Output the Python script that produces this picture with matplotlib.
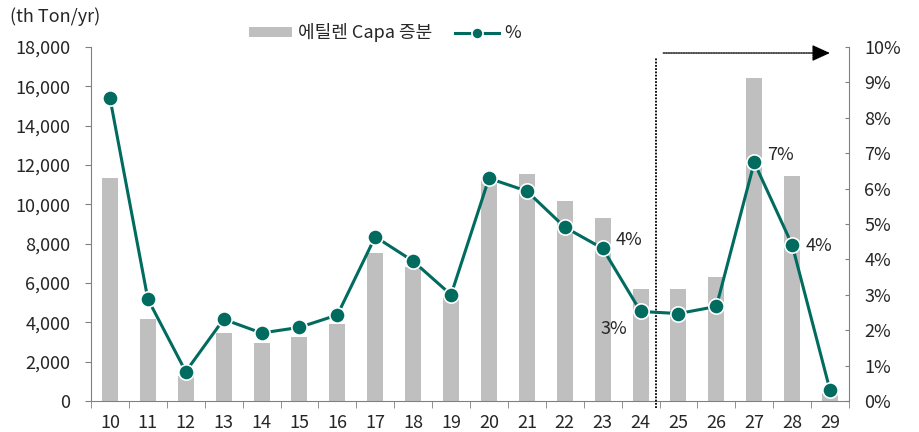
import matplotlib
matplotlib.use("Agg")
import matplotlib.pyplot as plt
from matplotlib.ticker import FuncFormatter, FixedLocator
import numpy as np

plt.rcParams['font.family'] = ['Noto Sans CJK KR', 'DejaVu Sans']

categories = ["10", "11", "12", "13", "14", "15", "16", "17", "18", "19",
              "20", "21", "22", "23", "24", "25", "26", "27", "28", "29"]
capa = [11350, 4150, 1250, 3450, 2950, 3250, 3900, 7550, 6800, 5300,
        11300, 11550, 10150, 9300, 5720, 5720, 6300, 16400, 11450, 400]
pct = [8.56, 2.88, 0.83, 2.31, 1.92, 2.08, 2.43, 4.64, 3.95, 3.00,
       6.29, 5.93, 4.91, 4.31, 2.53, 2.47, 2.67, 6.74, 4.41, 0.30]
annot = [(13, "4%", 0.35, 0.25), (14, "3%", -1.05, -0.5), (17, "7%", 0.35, 0.2), (18, "4%", 0.35, -0.02)]

bar_color = "#BFBFBF"
line_color = "#006B5E"
text_color = "#262626"
FS = 13

fig = plt.figure(figsize=(9.19, 4.32), dpi=100)
ax = fig.add_axes([91/919, 1 - 401/432, (849-91)/919, (401-47)/432])
x = np.arange(len(categories))
ax.bar(x, capa, width=0.42, color=bar_color, label="에틸렌 Capa 증분", zorder=1)
ax.set_xlim(-0.5, len(categories) - 0.5)
ax.set_ylim(0, 18000)
ax.yaxis.set_major_locator(FixedLocator(np.arange(0, 18001, 2000)))
ax.yaxis.set_major_formatter(FuncFormatter(lambda v, p: f"{int(v):,}"))
ax.set_xticks(x)
ax.set_xticklabels(categories)
ax.set_xticks(np.arange(-0.5, len(categories), 1), minor=True)
ax.tick_params(axis='x', which='major', length=0, labelsize=FS, colors=text_color, pad=9)
ax.tick_params(axis='x', which='minor', length=5, color="#808080", direction='out')
ax.tick_params(axis='y', length=4, color="#808080", labelsize=FS, colors=text_color, pad=11)
for s in ["top", "right"]:
    ax.spines[s].set_visible(False)
for s in ["left", "bottom"]:
    ax.spines[s].set_color("#808080")

ax2 = ax.twinx()
ax2.plot(x, pct, color=line_color, lw=2.2, marker='o', ms=11, mfc=line_color,
         mec="white", mew=1.2, label="%", zorder=3)
ax2.set_ylim(0, 10)
ax2.yaxis.set_major_locator(FixedLocator(np.arange(0, 10.01, 1)))
ax2.yaxis.set_major_formatter(FuncFormatter(lambda v, p: f"{int(round(v))}%"))
ax2.tick_params(axis='y', length=3, direction='in', color="#808080", labelsize=FS,
                colors=text_color, pad=11)
for s in ["top", "left", "bottom"]:
    ax2.spines[s].set_visible(False)
ax2.spines["right"].set_color("#808080")

for i, t, dx, dy in annot:
    ax2.text(i + dx, pct[i] + dy, t, fontsize=FS, color=text_color, ha='left', va='center')

# forecast divider and arrow
ax2.plot([14.4, 14.4], [-0.2, 9.7], ls=(0, (1, 0.8)), color="black", lw=1.3, clip_on=False)
ax2.annotate("", xy=(19.0, 9.83), xytext=(14.6, 9.83),
             arrowprops=dict(arrowstyle="-|>,head_length=1.1,head_width=0.5",
                             ls=(0, (1, 0.8)), color="black", lw=1.0, shrinkA=0, shrinkB=0))

fig.text(10/919, 1 - 17/432, "(th Ton/yr)", fontsize=FS, color=text_color, va='center', ha='left')

h1, l1 = ax.get_legend_handles_labels()
h2, l2 = ax2.get_legend_handles_labels()
leg = fig.legend(h1 + h2, l1 + l2, loc='center', bbox_to_anchor=(385/919, 1 - 33/432),
                 ncol=2, frameon=False, fontsize=FS, handlelength=2.4, handleheight=0.45,
                 columnspacing=1.3, handletextpad=0.3)
for t in leg.get_texts():
    t.set_color(text_color)
leg.legend_handles[1].set_markersize(8)

fig.savefig("out.png", dpi=100)
